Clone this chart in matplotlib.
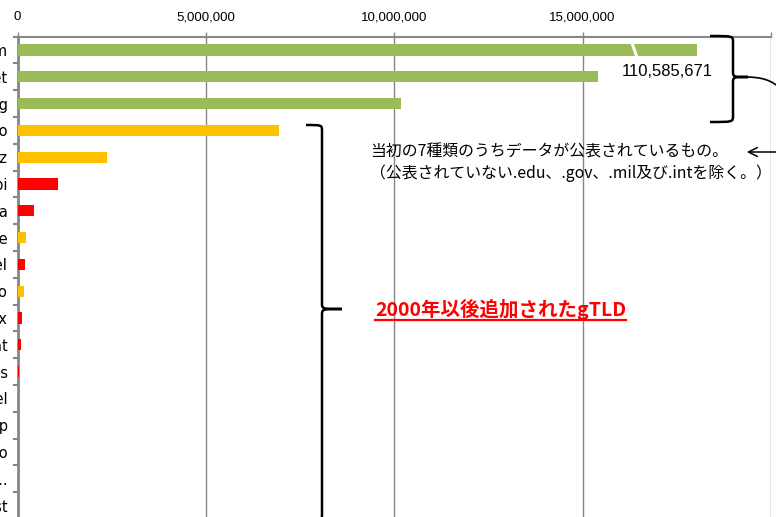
import numpy as np
import matplotlib
matplotlib.use("Agg")
import matplotlib.pyplot as plt
from matplotlib.path import Path
from matplotlib.patches import PathPatch

plt.rcParams['font.family'] = ['Noto Sans CJK JP', 'DejaVu Sans']

# gTLD registrations (com is shown with a broken bar)
tlds = ['com', 'net', 'org', 'info', 'biz', 'mobi', 'asia', 'name', 'tel',
        'pro', 'xxx', 'cat', 'jobs', 'travel', 'coop', 'aero', 'mus...', 'post']
counts = [110585671, 15400000, 10190000, 6930000, 2380000, 1080000, 450000,
          230000, 210000, 160000, 130000, 80000, 40000, 18000, 8000, 6000, 600, 300]
groups = ['orig', 'orig', 'orig', 'new', 'new', 'spon', 'spon', 'new', 'spon',
          'new', 'spon', 'spon', 'spon', 'spon', 'spon', 'spon', 'spon', 'spon']
xticks = [0, 5000000, 10000000, 15000000, 20000000]
xticklabels = ['0', '5,000,000', '10,000,000', '15,000,000', '']
com_label = '110,585,671'
note_orig = '当初の7種類のうちデータが公表されているもの。\n（公表されていない.edu、.gov、.mil及び.intを除く。）'
note_new = '2000年以後追加されたgTLD'

colors = {'orig': '#9BBB59', 'new': '#FFC000', 'spon': '#FF0000'}
CAP = 18030000  # display length of the broken com bar

W, H = 776, 517
fig = plt.figure(figsize=(W / 100, H / 100), dpi=100)

left, right = 17.5, 771
top, bottom = 36.6, 36.6 + 26.8 * len(tlds)
ax = fig.add_axes([left / W, 1 - bottom / H, (right - left) / W, (bottom - top) / H])

y = np.arange(len(tlds))
vals = [min(v, CAP) for v in counts]
ax.barh(y, vals, height=0.42, color=[colors[g] for g in groups], zorder=3)

# break mark on the com bar
ax.plot([16.3e6, 16.45e6], [-0.3, 0.3], color='white', lw=2.2, zorder=4)

ax.set_xlim(0, 20000000)
ax.set_ylim(len(tlds) - 0.5, -0.5)
ax.xaxis.tick_top()
ax.set_xticks(xticks)
ax.set_xticklabels(xticklabels, family='Liberation Sans', fontsize=9.5)
ax.set_yticks(y)
ax.set_yticklabels(tlds, family='DejaVu Sans', fontsize=10.5)
ax.set_yticks(np.arange(len(tlds) + 1) - 0.5, minor=True)
ax.tick_params(axis='y', which='major', length=0, pad=7)
ax.tick_params(axis='y', which='minor', length=3.6, width=1.5, color='#868686')
ax.tick_params(axis='x', length=3.5, width=1, color='#868686', pad=6)
ax.grid(axis='x', color='#868686', lw=1, zorder=0)
for s in ['right', 'bottom']:
    ax.spines[s].set_visible(False)
ax.spines['left'].set_color('#868686')
ax.spines['left'].set_linewidth(2)
ax.spines['top'].set_color('#868686')
ax.spines['top'].set_linewidth(1.5)

# overlay in pixel units for annotations
ov = fig.add_axes([0, 0, 1, 1], zorder=10)
ov.set_xlim(0, W)
ov.set_ylim(H, 0)
ov.axis('off')
ov.patch.set_alpha(0)


def brace(x0, xs, xt, y0, y1, ym, r=6):
    verts = [(x0, y0), (xs, y0), (xs, y0), (xs, y0 + r),
             (xs, ym - r), (xs, ym), (xs, ym), (xt, ym),
             (xs, ym), (xs, ym), (xs, ym + r),
             (xs, y1 - r), (xs, y1), (xs, y1), (x0, y1)]
    codes = [Path.MOVETO, Path.CURVE4, Path.CURVE4, Path.CURVE4,
             Path.LINETO, Path.CURVE4, Path.CURVE4, Path.CURVE4,
             Path.CURVE4, Path.CURVE4, Path.CURVE4,
             Path.LINETO, Path.CURVE4, Path.CURVE4, Path.CURVE4]
    ov.add_patch(PathPatch(Path(verts, codes), fill=False, lw=1.8, color='black'))


brace(710, 733, 748, 36, 122, 77)
brace(306, 322, 342, 125, 520, 309)

# connector from upper brace to the right edge
p = Path([(745, 77), (762, 77), (772, 80), (782, 90)],
         [Path.MOVETO, Path.CURVE4, Path.CURVE4, Path.CURVE4])
ov.add_patch(PathPatch(p, fill=False, lw=1.2, color='black'))
ov.annotate('', xy=(744, 152), xytext=(790, 152),
            arrowprops=dict(arrowstyle='->', lw=1.1, color='black', mutation_scale=16))

ov.text(667, 72, com_label, family='Liberation Sans', fontsize=12, ha='center', va='center')
ov.text(370, 163, note_orig, fontsize=11.4, ha='left', va='center', linespacing=1.25)
t = ov.text(375, 309, note_new, fontsize=14, fontweight='bold', color='#FF0000',
            ha='left', va='center', family=['Noto Sans CJK JP', 'DejaVu Sans'])

fig.canvas.draw()
bb = t.get_window_extent(renderer=fig.canvas.get_renderer())
uy = H - bb.y0 + 0.5
ov.plot([bb.x0, bb.x1], [uy, uy], color='#FF0000', lw=1.6)

fig.savefig('out.png', dpi=100)
